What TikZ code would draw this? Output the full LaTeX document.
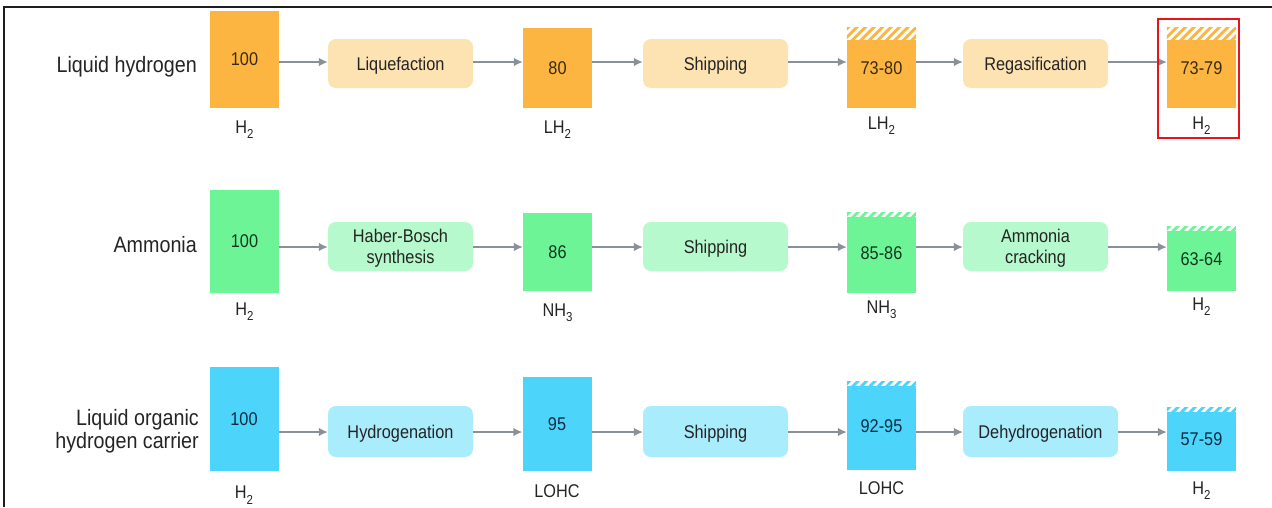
\documentclass[tikz,border=0pt]{standalone}
\usepackage{fontspec}
\setmainfont{Liberation Sans}
\usepackage{graphicx}
\usetikzlibrary{arrows.meta}

% palette
\definecolor{ambr}{HTML}{FBB540}
\definecolor{ambrlt}{HTML}{FDE3B1}
\definecolor{ambrtx}{HTML}{3A2A10}
\definecolor{grn}{HTML}{6DF497}
\definecolor{grnlt}{HTML}{B6F9CC}
\definecolor{grntx}{HTML}{10381D}
\definecolor{cyn}{HTML}{4DD4FB}
\definecolor{cynlt}{HTML}{A9ECFC}
\definecolor{cyntx}{HTML}{0C2C40}
\definecolor{txt}{HTML}{242424}
\definecolor{arrowgray}{HTML}{8A9098}
\definecolor{hilite}{HTML}{E8141B}
\definecolor{frame}{HTML}{1E1E1E}

% slightly tall lettering
\newcommand\vt[1]{\scalebox{1}[1.13]{#1}}
\newcommand\boxfont{\fontsize{16.3}{20.5}\selectfont}
\newcommand\labfont{\fontsize{19.7}{23}\selectfont}
% low-set chemical subscript
\newcommand\chemsub[1]{\raisebox{-0.32em}{\fontsize{11.5}{11.5}\selectfont #1}}

% striped band across the top of a value box: node, band height, stripe colour
\newcommand\hatchtop[3]{%
  \begin{scope}
    \clip (#1.north west) rectangle ([yshift=-#2pt]#1.north east);
    \fill[white] (#1.north west) rectangle ([yshift=-#2pt]#1.north east);
    \foreach \k in {-3,...,10}
      \draw[#3, line width=2.8pt]
        ([xshift=\k*8.5pt]#1.north west) ++(0,#2+6) -- ++(#2+14,-#2-14);
  \end{scope}}

\tikzset{
  valbox/.style={minimum width=69pt, inner sep=0pt, font=\boxfont},
  procbox/.style={rounded corners=8pt, minimum width=145pt, minimum height=49pt,
                  inner sep=0pt, align=center, font=\boxfont, text=txt, text depth=0pt},
  sublab/.style={anchor=base, inner sep=0pt, font=\boxfont, text=txt},
  rowlab/.style={inner sep=0pt, align=right, font=\labfont, text=txt},
  arr/.style={draw=arrowgray, line width=1.4pt, -{Latex[length=9pt,width=8.5pt]}},
}

\begin{document}
\begin{tikzpicture}[x=1pt, y=-1pt]
\useasboundingbox (0,0) rectangle (1272,507);

% frame edges
\draw[frame, line width=1.8pt] (4,507) -- (4,7) -- (1272,7);

% row heights for the connectors
\coordinate (r1) at (0,62);
\coordinate (r2) at (0,247);
\coordinate (r3) at (0,432);

% ---------- Liquid hydrogen ----------
\node[rowlab, anchor=base east] (l1) at (197,72) {\vt{Liquid hydrogen}};

\node[valbox, fill=ambr, text=ambrtx, minimum height=97pt] (a1) at (244.5,59.5) {\vt{100}};
\node[procbox, fill=ambrlt] (a2) at (400.5,63.5) {\vt{Liquefaction}};
\node[valbox, fill=ambr, text=ambrtx, minimum height=80pt] (a3) at (557.5,68) {\vt{80}};
\node[procbox, fill=ambrlt] (a4) at (715.5,63.5) {\vt{Shipping}};
\node[valbox, fill=ambr, text=ambrtx, minimum height=80pt] (a5) at (881.5,68) {\vt{73-80}};
\node[procbox, fill=ambrlt] (a6) at (1035.5,63.5) {\vt{Regasification}};
\node[valbox, fill=ambr, text=ambrtx, minimum height=80pt] (a7) at (1201.5,68) {\vt{73-79}};
\hatchtop{a5}{12}{ambr}
\hatchtop{a7}{12}{ambr}

\node[sublab] (s1) at (a1.south |- 0,133) {\vt{H\chemsub{2}}};
\node[sublab] (s3) at (a3.south |- 0,133) {\vt{LH\chemsub{2}}};
\node[sublab] (s5) at (a5.south |- 0,129) {\vt{LH\chemsub{2}}};
\node[sublab] (s7) at (a7.south |- 0,129) {\vt{H\chemsub{2}}};

\draw[arr] (a1.east |- r1) -- (a2.west |- r1);
\draw[arr] (a2.east |- r1) -- (a3.west |- r1);
\draw[arr] (a3.east |- r1) -- (a4.west |- r1);
\draw[arr] (a4.east |- r1) -- (a5.west |- r1);
\draw[arr] (a5.east |- r1) -- (a6.west |- r1);
\draw[arr] (a6.east |- r1) -- (a7.west |- r1);

% highlight around the delivered hydrogen
\draw[hilite, line width=2pt] (1158,19) rectangle (1239,138);

% ---------- Ammonia ----------
\node[rowlab, anchor=base east] (l2) at (197,252) {\vt{Ammonia}};

\node[valbox, fill=grn, text=grntx, minimum height=103pt] (b1) at (244.5,241.5) {\vt{100}};
\node[procbox, fill=grnlt] (b2) at (400.5,246.5) {\vt{Haber-Bosch}\\\vt{synthesis}};
\node[valbox, fill=grn, text=grntx, minimum height=78pt] (b3) at (557.5,252) {\vt{86}};
\node[procbox, fill=grnlt] (b4) at (715.5,246.5) {\vt{Shipping}};
\node[valbox, fill=grn, text=grntx, minimum height=80pt] (b5) at (881.5,253) {\vt{85-86}};
\node[procbox, fill=grnlt] (b6) at (1035.5,246.5) {\vt{Ammonia}\\\vt{cracking}};
\node[valbox, fill=grn, text=grntx, minimum height=64pt] (b7) at (1201.5,259) {\vt{63-64}};
\hatchtop{b5}{4.5}{grn}
\hatchtop{b7}{4.5}{grn}

\node[sublab] (t1) at (b1.south |- 0,315) {\vt{H\chemsub{2}}};
\node[sublab] (t3) at (b3.south |- 0,316) {\vt{NH\chemsub{3}}};
\node[sublab] (t5) at (b5.south |- 0,313) {\vt{NH\chemsub{3}}};
\node[sublab] (t7) at (b7.south |- 0,310) {\vt{H\chemsub{2}}};

\draw[arr] (b1.east |- r2) -- (b2.west |- r2);
\draw[arr] (b2.east |- r2) -- (b3.west |- r2);
\draw[arr] (b3.east |- r2) -- (b4.west |- r2);
\draw[arr] (b4.east |- r2) -- (b5.west |- r2);
\draw[arr] (b5.east |- r2) -- (b6.west |- r2);
\draw[arr] (b6.east |- r2) -- (b7.west |- r2);

% ---------- Liquid organic hydrogen carrier ----------
\node[rowlab, anchor=north east] (l3) at (199,409) {\vt{Liquid organic}\\\vt{hydrogen carrier}};

\node[valbox, fill=cyn, text=cyntx, minimum height=104pt] (c1) at (244,419) {\vt{100}};
\node[procbox, fill=cynlt, minimum height=51pt] (c2) at (400.5,431.5) {\vt{Hydrogenation}};
\node[valbox, fill=cyn, text=cyntx, minimum height=94pt] (c3) at (557,424) {\vt{95}};
\node[procbox, fill=cynlt, minimum height=51pt] (c4) at (715.5,431.5) {\vt{Shipping}};
\node[valbox, fill=cyn, text=cyntx, minimum height=88pt] (c5) at (881.5,426) {\vt{92-95}};
\node[procbox, fill=cynlt, minimum height=51pt, minimum width=155pt] (c6) at (1040.5,431.5) {\vt{Dehydrogenation}};
\node[valbox, fill=cyn, text=cyntx, minimum height=63pt] (c7) at (1201.5,439.5) {\vt{57-59}};
\hatchtop{c5}{4.5}{cyn}
\hatchtop{c7}{4.5}{cyn}

\node[sublab] (u1) at (c1.south |- 0,498.5) {\vt{H\chemsub{2}}};
\node[sublab] (u3) at (c3.south |- 0,497) {\vt{LOHC}};
\node[sublab] (u5) at (c5.south |- 0,494) {\vt{LOHC}};
\node[sublab] (u7) at (c7.south |- 0,494) {\vt{H\chemsub{2}}};

\draw[arr] (c1.east |- r3) -- (c2.west |- r3);
\draw[arr] (c2.east |- r3) -- (c3.west |- r3);
\draw[arr] (c3.east |- r3) -- (c4.west |- r3);
\draw[arr] (c4.east |- r3) -- (c5.west |- r3);
\draw[arr] (c5.east |- r3) -- (c6.west |- r3);
\draw[arr] (c6.east |- r3) -- (c7.west |- r3);
\end{tikzpicture}
\end{document}
